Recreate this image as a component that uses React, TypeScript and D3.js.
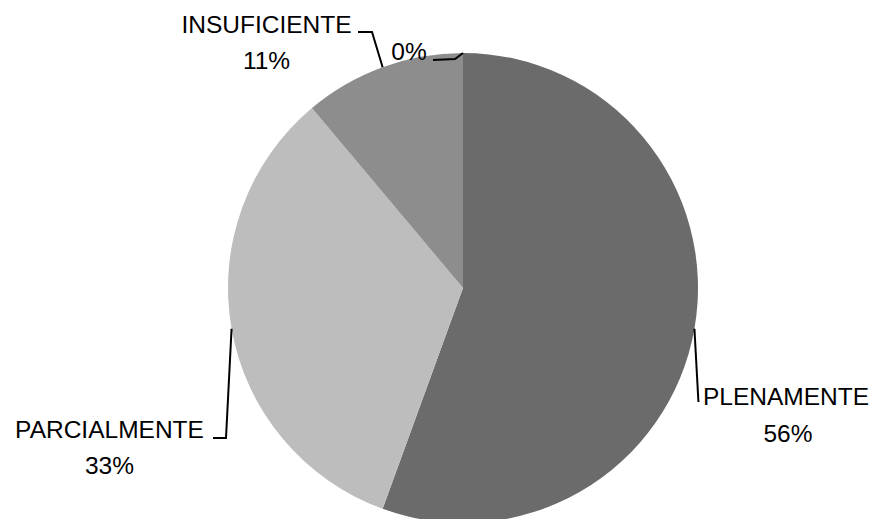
import React from "react";
import * as d3 from "d3";

const categories = ["PLENAMENTE", "PARCIALMENTE", "INSUFICIENTE", ""];
const values = [5, 3, 1, 0];
const percentLabels = ["56%", "33%", "11%", "0%"];
const colors = ["#6b6b6b", "#bdbdbd", "#8d8d8d", "#8d8d8d"];

const W = 875;
const H = 519;
const cx = 463;
const cy = 288;
const R = 235;
const FONT = "'Liberation Sans', Arial, sans-serif";
const FS = 24.5;

// label layout: leader path points relative (after start), text positions
type Lay = {
  path: (s: [number, number]) => [number, number][];
  name?: { x: number; y: number; anchor: string };
  pct: { x: number; y: number; anchor: string };
};

const layouts: Lay[] = [
  {
    path: (s) => [s, [s[0] + 4, 402]],
    name: { x: 703, y: 405, anchor: "start" },
    pct: { x: 788, y: 442, anchor: "middle" },
  },
  {
    path: (s) => [s, [226, 438], [213, 438]],
    name: { x: 109.5, y: 438, anchor: "middle" },
    pct: { x: 109.5, y: 474, anchor: "middle" },
  },
  {
    path: (s) => [s, [372, 32], [358, 32]],
    name: { x: 266.5, y: 33, anchor: "middle" },
    pct: { x: 266.5, y: 69, anchor: "middle" },
  },
  {
    path: (s) => [s, [455, 59], [433, 60]],
    pct: { x: 409, y: 60, anchor: "middle" },
  },
];

export default function App() {
  const pie = d3
    .pie<number>()
    .sort(null)
    .value((d) => d)(values);
  const arc = d3.arc<d3.PieArcDatum<number>>().innerRadius(0).outerRadius(R);
  const line = d3.line();

  return (
    <svg
      width={W}
      height={H}
      style={{ position: "absolute", left: 0, top: 0, background: "#fff" }}
      fontFamily={FONT}
    >
      <g transform={`translate(${cx},${cy})`}>
        {pie.map((p, i) =>
          values[i] > 0 ? <path key={i} d={arc(p) || ""} fill={colors[i]} /> : null
        )}
      </g>
      {pie.map((p, i) => {
        const mid = (p.startAngle + p.endAngle) / 2;
        const s: [number, number] = [cx + R * Math.sin(mid), cy - R * Math.cos(mid)];
        const L = layouts[i];
        return (
          <g key={"l" + i}>
            <path
              d={line(L.path(s)) || ""}
              fill="none"
              stroke="#000"
              strokeWidth={2}
            />
            {L.name && categories[i] ? (
              <text
                x={L.name.x}
                y={L.name.y}
                textAnchor={L.name.anchor as any}
                fontSize={FS}
                fill="#000"
              >
                {categories[i]}
              </text>
            ) : null}
            <text
              x={L.pct.x}
              y={L.pct.y}
              textAnchor={L.pct.anchor as any}
              fontSize={FS}
              fill="#000"
            >
              {percentLabels[i]}
            </text>
          </g>
        );
      })}
    </svg>
  );
}
